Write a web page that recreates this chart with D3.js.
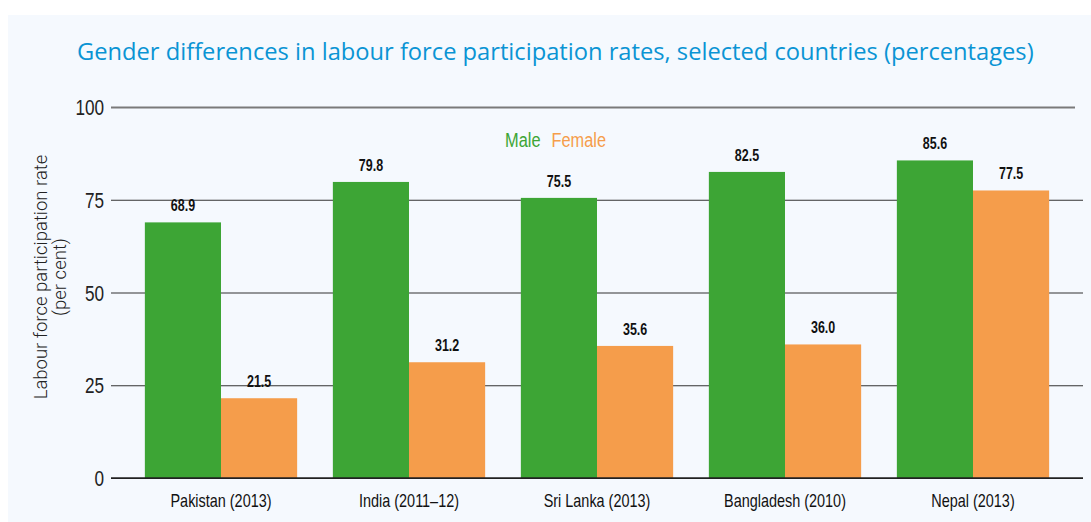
<!DOCTYPE html>
<meta charset="utf-8">
<title>Gender differences in labour force participation rates</title>
<style>
    body { margin: 0; background: #fff; }
    .narrow { font-family: "Liberation Sans", Arial, sans-serif; }
</style>
<svg width="1091" height="522"></svg>
<script src="https://cdn.jsdelivr.net/npm/d3@7"></script>
<script>
    // data
    const categories = ["Pakistan (2013)", "India (2011\u201312)", "Sri Lanka (2013)", "Bangladesh (2010)", "Nepal (2013)"];
    const series = ["Male", "Female"];
    const male = [68.9, 79.8, 75.5, 82.5, 85.6];
    const female = [21.5, 31.2, 35.6, 36.0, 77.5];
    const yTicks = [0, 25, 50, 75, 100];
    const colors = ["#3da535", "#f59d4b"];

    const rows = categories.map((c, i) => ({ cat: c, values: [male[i], female[i]] }));

    // condensed look: squeeze an ordinary sans horizontally
    const SQ = 0.78;

    const svg = d3.select("svg");

    // background panel
    svg.append("rect")
        .attr("x", 8).attr("y", 15)
        .attr("width", 1091 - 8).attr("height", 522 - 15)
        .attr("fill", "#f5f9fe");

    // title
    const title = svg.append("text")
        .attr("x", 77).attr("y", 60)
        .attr("fill", "#0a94d4")
        .style("font-family", "'Open Sans', sans-serif")
        .style("font-size", "24px")
        .text("Gender differences in labour force participation rates, selected countries (percentages)");
    const tw = title.node().getComputedTextLength();
    title.style("font-size", (24 * 957 / tw) + "px");

    const x = d3.scaleBand()
        .domain(categories)
        .range([127, 1067])
        .paddingInner(0.19)
        .paddingOuter(0.095);

    const xs = d3.scaleBand()
        .domain(series)
        .range([0, x.bandwidth()]);

    const y = d3.scaleLinear()
        .domain([0, 100])
        .range([478, 107]);

    // y axis with gridlines
    const yAxis = svg.append("g")
        .attr("class", "narrow")
        .attr("transform", "translate(111,0)")
        .call(d3.axisLeft(y).tickValues(yTicks).tickSize(-972));
    yAxis.select(".domain").remove();
    yAxis.selectAll(".tick line")
        .attr("stroke", d => d === 0 ? "#222" : (d === 100 ? "#7a7a7a" : "#333"))
        .attr("stroke-width", d => d === 100 ? 2 : 1.2)
        .attr("x2", d => d === 100 ? 964 : 972);
    yAxis.selectAll(".tick text")
        .attr("x", -7 / SQ)
        .attr("transform", `scale(${SQ},1)`)
        .attr("dy", "0.35em")
        .style("font-size", "22px")
        .attr("fill", "#222");

    // bars
    const groups = svg.append("g")
        .selectAll("g")
        .data(rows)
        .join("g")
        .attr("transform", d => `translate(${x(d.cat)},0)`);

    groups.selectAll("rect")
        .data(d => d.values.map((v, i) => ({ s: series[i], v: v, i: i })))
        .join("rect")
        .attr("x", d => xs(d.s))
        .attr("y", d => y(d.v))
        .attr("width", xs.bandwidth())
        .attr("height", d => y(0) - y(d.v))
        .attr("fill", d => colors[d.i]);

    groups.selectAll(".val")
        .data(d => d.values.map((v, i) => ({ s: series[i], v: v })))
        .join("text")
        .attr("class", "val narrow")
        .attr("transform", d => `translate(${xs(d.s) + xs.bandwidth() / 2},${y(d.v) - 11}) scale(${SQ},1)`)
        .attr("text-anchor", "middle")
        .style("font-size", "16px")
        .style("font-weight", "bold")
        .attr("fill", "#111")
        .text(d => d.v.toFixed(1));

    // redraw zero line on top of bars
    svg.append("line")
        .attr("x1", 111).attr("x2", 1083)
        .attr("y1", y(0)).attr("y2", y(0))
        .attr("stroke", "#222").attr("stroke-width", 1.5);

    // category labels
    const xAxis = svg.append("g")
        .attr("class", "narrow")
        .attr("transform", `translate(0,${y(0)})`)
        .call(d3.axisBottom(x).tickSize(0).tickPadding(16));
    xAxis.select(".domain").remove();
    xAxis.selectAll("text")
        .attr("transform", `scale(${SQ},1)`)
        .style("font-size", "18.5px")
        .attr("fill", "#111");

    // legend
    const legend = svg.append("text")
        .attr("class", "narrow")
        .attr("transform", `translate(505,147) scale(${SQ},1)`)
        .style("font-size", "21px");
    legend.append("tspan").attr("fill", colors[0]).text(series[0]);
    legend.append("tspan").attr("fill", colors[1]).attr("dx", 14).text(series[1]);

    // y axis title
    const yt = svg.append("text")
        .attr("transform", "translate(47,277) rotate(-90)")
        .attr("text-anchor", "middle")
        .attr("fill", "#222")
        .style("font-family", "Roboto, 'Liberation Sans', sans-serif")
        .style("font-weight", 300)
        .style("font-size", "18.5px");
    yt.append("tspan").attr("x", 0).attr("dy", 0).text("Labour force participation rate");
    yt.append("tspan").attr("x", 0).attr("dy", 19).text("(per cent)");
</script>
